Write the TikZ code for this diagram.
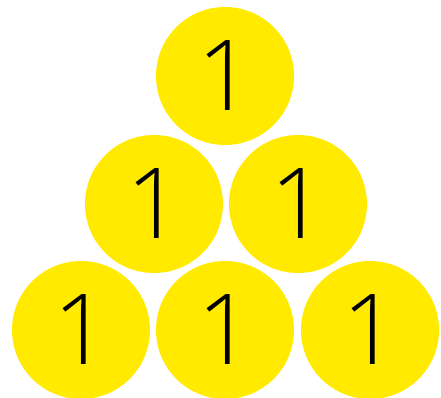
\documentclass[tikz,border=0pt]{standalone}
\usepackage{fontspec}
\setmainfont{Open Sans}[UprightFont={* Light}]
\definecolor{ball}{HTML}{FFEA00}
\newcommand{\ballone}{\raisebox{-4pt}{1}}
\begin{document}
\begin{tikzpicture}[x=1pt,y=-1pt,
  ball/.style={circle,fill=ball,minimum size=138pt,inner sep=0pt,
    font=\fontsize{98}{98}\selectfont,text=black}]
\useasboundingbox (0,0) rectangle (441,398);
\node[ball] (t)  at (225,76)  {\ballone};
\node[ball] (m1) at (154,204) {\ballone};
\node[ball] (m2) at (298,204) {\ballone};
\node[ball] (b1) at (81,330)  {\ballone};
\node[ball] (b2) at (225,330) {\ballone};
\node[ball] (b3) at (370,330) {\ballone};
\end{tikzpicture}
\end{document}
